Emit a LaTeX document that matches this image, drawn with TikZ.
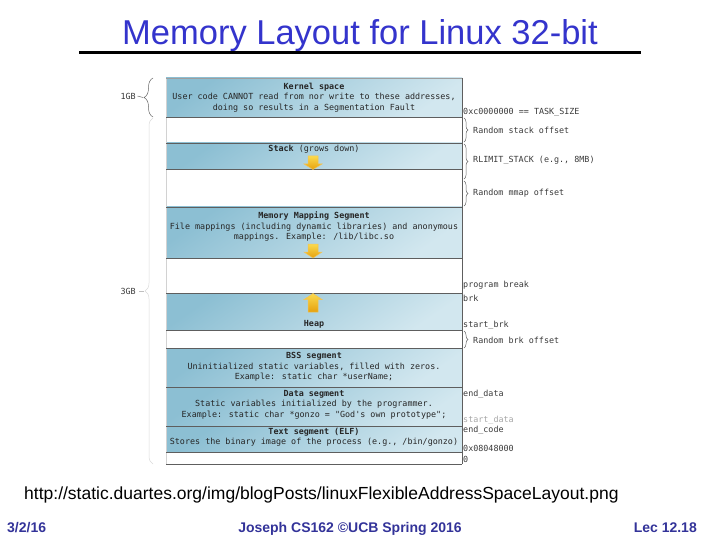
\documentclass[tikz,border=0pt]{standalone}
\usepackage{fontspec}
\setmainfont{Liberation Sans}
\newfontfamily\codefont{DejaVu Sans Mono}
\usetikzlibrary{decorations.pathreplacing}
\definecolor{titleblue}{HTML}{3434CC}
\definecolor{footblue}{HTML}{333399}
\definecolor{segdark}{HTML}{8CBFD3}
\definecolor{seglight}{HTML}{D2E7EF}
\definecolor{edgegray}{HTML}{5E5E5E}
\definecolor{arrowtop}{HTML}{FBDA4E}
\definecolor{arrowbot}{HTML}{E6A10E}
\definecolor{arrowline}{HTML}{F0C45A}
\definecolor{labgray}{HTML}{3A3A3A}
\tikzset{
  seg/.style={top color=segdark, bottom color=seglight, shading angle=35, draw=none},
  segline/.style={draw=edgegray, line width=0.8pt},
  segtext/.style={font=\codefont\fontsize{8.4}{10.4}\selectfont, align=center, inner sep=0pt, text=black!85},
  lab/.style={font=\codefont\fontsize{8.4}{10}\selectfont, anchor=west, inner sep=0pt, text=labgray},
  yarrow/.style={top color=arrowtop, bottom color=arrowbot, draw=arrowline, line width=0.5pt},
  rbrace/.style={decorate, decoration={brace, amplitude=4pt}, draw=gray!80!black, line width=0.5pt},
  lbrace/.style={decorate, decoration={brace, amplitude=9pt}, draw=gray!80!black, line width=0.5pt},
  foot/.style={font=\bfseries\fontsize{14}{16}\selectfont, text=footblue, inner sep=0pt},
}
\begin{document}
\begin{tikzpicture}[x=1pt,y=-1pt]
\useasboundingbox (0,0) rectangle (720,540);
% title
\node[font=\fontsize{34.5}{40}\selectfont, text=titleblue, anchor=base, inner sep=0pt] (title) at (360,45) {Memory Layout for Linux 32-bit};
\draw[line width=3pt] (79,53) -- (641,53);

% segments
\path[seg] (166,78) rectangle (462,117);
\path[seg] (166,143) rectangle (462,169);
\path[seg] (166,207) rectangle (462,258);
\path[seg] (166,293) rectangle (462,330);
\path[seg] (166,348) rectangle (462,387);
\path[seg] (166,387) rectangle (462,426);
\path[seg] (166,426) rectangle (462,452);
\draw[gray!35] (166,78) -- (166,464);
\draw[edgegray!60] (166,78) -- (462,78);
\foreach \yy in {117,143,169,207,258,293,330,348,387,426,452,464}
  \draw[segline] (166,\yy) -- (462,\yy);
\draw[segline] (462,78) -- (462,464);

% segment texts
\node[segtext] (kernel) at (314,97.5) {\textbf{Kernel space}\\User code CANNOT read from nor write to these addresses,\\doing so results in a Segmentation Fault};
\node[segtext] (stack) at (314,149) {\textbf{Stack} (grows down)};
\node[segtext] (mms) at (314,226.5) {\textbf{Memory Mapping Segment}\\File mappings (including dynamic libraries) and anonymous\\mappings. Example: /lib/libc.so};
\node[segtext] (heap) at (314,324) {\textbf{Heap}};
\node[segtext] (bss) at (314,367) {\textbf{BSS segment}\\Uninitialized static variables, filled with zeros.\\Example: static char *userName;};
\node[segtext] (data) at (314,404.5) {\textbf{Data segment}\\Static variables initialized by the programmer.\\Example: static char *gonzo = "God's own prototype";};
\node[segtext] (text) at (314,437) {\textbf{Text segment (ELF)}\\Stores the binary image of the process (e.g., /bin/gonzo)};

% yellow arrows
\path[yarrow] (308,156) -- (318,156) -- (318,164) -- (322,164) -- (313,169.5) -- (304,164) -- (308,164) -- cycle;
\path[yarrow] (308,244) -- (318,244) -- (318,252) -- (322,252) -- (313,258) -- (304,252) -- (308,252) -- cycle;
\path[yarrow] (313,293.5) -- (322,299.5) -- (318,299.5) -- (318,312) -- (308,312) -- (308,299.5) -- (304,299.5) -- cycle;

% right labels
\node[lab] (task) at (463,112) {0xc0000000 == TASK\_SIZE};
\draw[rbrace] (464,118) -- (464,142);
\node[lab] (rso) at (473,130) {Random stack offset};
\draw[rbrace] (464,144) -- (464,179);
\node[lab] (rlim) at (473,160) {RLIMIT\_STACK (e.g., 8MB)};
\draw[rbrace] (464,181) -- (464,206);
\node[lab] (rmo) at (473,193.5) {Random mmap offset};
\node[lab] (pbreak) at (463,285) {program break};
\node[lab] (brk) at (463,298) {brk};
\node[lab] (sbrk) at (463,325) {start\_brk};
\draw[rbrace] (464,331) -- (464,348);
\node[lab] (rbo) at (473,340) {Random brk offset};
\node[lab] (edata) at (463,394) {end\_data};
\node[lab, text=gray!70] (sdata) at (463,420) {start\_data};
\node[lab] (ecode) at (463,430) {end\_code};
\node[lab] (addr) at (463,448) {0x08048000};
\node[lab] (zero) at (463,459) {0};

% left labels
\node[lab, anchor=east] (gb1) at (136,96) {1GB};
\draw[lbrace] (153,117) -- (153,78);
\coordinate (gb1tip) at (143,97.5);
\draw[gray!80!black, line width=0.5pt] (gb1.east) ++(1.5,0) -- (gb1tip);
\node[lab, anchor=east] (gb3) at (136,291) {3GB};
\draw[lbrace, draw=gray!30, decoration={amplitude=8pt}] (153,464) -- (153,118);
\coordinate (gb3tip) at (144,291);
\draw[gray!50, line width=0.5pt] (gb3.east) ++(3,0) -- (gb3tip);

% footer
\node[font=\fontsize{17.5}{20}\selectfont, anchor=base west, inner sep=0pt] (url) at (24,499) {http://static.duartes.org/img/blogPosts/linuxFlexibleAddressSpaceLayout.png};
\node[foot, anchor=base west] (date) at (7,532) {3/2/16};
\node[foot, anchor=base] (course) at (350,532) {Joseph CS162 ©UCB Spring 2016};
\node[foot, anchor=base east] (lec) at (697,532) {Lec 12.18};
\end{tikzpicture}
\end{document}
